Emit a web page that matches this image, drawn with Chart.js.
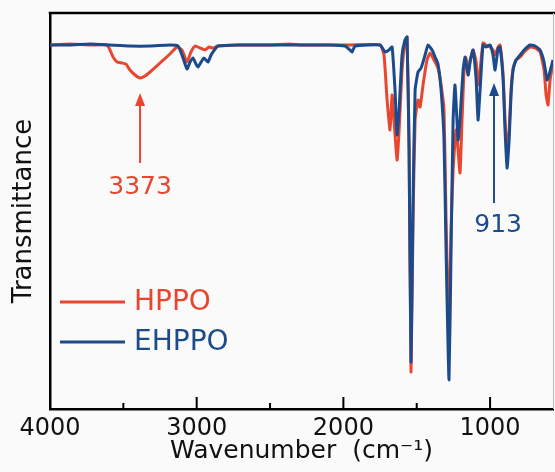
<!DOCTYPE html>
<html><head><meta charset="utf-8">
<script src="https://cdn.jsdelivr.net/npm/chart.js@4"></script>
<style>html,body{margin:0;padding:0;background:#fafafa;}#wrap{width:555px;height:472px;}</style>
</head><body><div id="wrap"><canvas id="c" width="555" height="472"></canvas></div>
<script>
const seriesNames = ['HPPO', 'EHPPO'];
const seriesColors = ['#E8462E', '#1C4B8C'];

const hppoWavenumber = [4000,3864,3727,3611,3591,3570,3543,3509,3482,3455,3420,3386,3352,3318,3250,3182,3134,3100,3066,3039,3011,2977,2943,2916,2889,2855,2705,2500,2364,2295,2091,1955,1750,1723,1702,1682,1668,1655,1634,1620,1600,1580,1566,1552,1539,1525,1511,1491,1477,1457,1430,1409,1382,1355,1334,1314,1300,1280,1266,1252,1232,1218,1205,1191,1177,1164,1150,1136,1116,1095,1082,1068,1048,1027,1000,980,966,945,932,911,898,884,870,857,843,823,795,768,727,693,659,632,618,605,591,571];
const hppoT = [91,91.25,91,91,89.75,88,86.75,86.5,86.25,84.75,83.5,82.75,83.25,84.25,86.5,88.75,90.5,89.75,86.75,89.25,90.75,90.25,89.75,90.5,90.25,90.75,91,91,91.25,91,91,91,91,88.5,77.25,69.75,78.5,72.25,62.25,69.75,84.75,91.75,93,64.75,9.25,47.25,72.25,77.25,75.5,81,87.25,89,87.25,85.25,81,74.75,47.25,19.75,44.75,59.75,69.75,64.75,59,72.25,84.75,87.75,83.5,87.25,89.75,86.75,81,84.75,91.5,91,90.5,89.75,88.5,90.5,91,83.5,72.25,64.75,69.75,79.75,85.25,87.25,88,89.25,90.5,90.25,89.25,84.75,78.5,76,82.25,86.5];

const ehppoWavenumber = [4000,3864,3727,3591,3455,3318,3182,3127,3093,3066,3045,3025,3005,2991,2970,2950,2923,2902,2889,2855,2705,2500,2295,2091,1989,1955,1941,1920,1750,1716,1689,1668,1648,1634,1620,1600,1580,1566,1552,1539,1525,1511,1491,1470,1443,1423,1395,1375,1355,1334,1314,1300,1280,1266,1252,1239,1218,1205,1184,1170,1150,1136,1116,1095,1082,1068,1048,1027,1000,980,966,945,932,911,898,884,870,857,843,823,795,768,727,693,659,632,611,598,571];
const ehppoT = [91,91,91.25,91,90.75,90.75,91,90.75,87.75,85,86.75,87.75,86.25,85.5,86.75,87.75,86.75,88.5,89.25,90.75,91,91,91,91,90.75,89.75,89.25,90.75,91,89.25,89.75,90.5,79.75,68.5,74.75,88.5,92.25,93,64.75,11.75,52.25,79.75,84.25,85.25,88.5,91,89.75,88,86.25,79.75,67.25,39.75,7.25,39.75,72.25,81,67.25,72.25,84.75,88,83.5,86.75,89.75,82.25,72.25,79.75,91,90.5,91,88.5,84.75,90.25,90.5,82.25,69.75,60.25,67.25,78.5,84.75,87.25,88.5,89.75,91,90.75,89.75,86.75,82.25,83.5,87.25];

const xTickValues = [4000, 3500, 3000, 2500, 2000, 1500, 1000];
const xRange = [571, 4000];
const yRange = [0, 99];

const annotationLabels = ['3373', '913'];
const annotationSeries = [0, 1];
const annotationArrowX = [3386, 973];
const annotationArrowTip = [79, 81.5];
const annotationArrowBase = [61.5, 51.5];
const annotationTextX = [3386, 945];
const annotationTextY = [55.5, 46];

const FONT = "'DejaVu Sans', sans-serif";

function pts(xs, ys) { return xs.map((x, i) => ({ x: x, y: ys[i] })); }

const framePlugin = {
  id: 'framePlugin',
  afterDraw(chart) {
    const ctx = chart.ctx, a = chart.chartArea;
    const xs = chart.scales.x, ys = chart.scales.y;
    ctx.save();
    ctx.strokeStyle = '#000'; ctx.lineWidth = 2.5;
    ctx.beginPath(); ctx.moveTo(a.left - 1.25, a.top); ctx.lineTo(555, a.top); ctx.stroke();
    ctx.strokeStyle = '#bbb'; ctx.lineWidth = 1;
    ctx.beginPath(); ctx.moveTo(a.right + 0.5, a.top); ctx.lineTo(a.right + 0.5, a.bottom); ctx.stroke();
    ctx.strokeStyle = '#000'; ctx.lineWidth = 2;
    xs.ticks.forEach(t => {
      const px = xs.getPixelForValue(t.value);
      const len = (t.value % 1000 === 0) ? 12 : 6;
      ctx.beginPath(); ctx.moveTo(px, a.bottom); ctx.lineTo(px, a.bottom - len); ctx.stroke();
    });
    ctx.font = '28px ' + FONT; ctx.textBaseline = 'middle'; ctx.textAlign = 'left';
    chart.data.datasets.forEach((ds, i) => {
      const y = 302 + i * 40;
      ctx.strokeStyle = ds.borderColor; ctx.lineWidth = 3;
      ctx.beginPath(); ctx.moveTo(60, y); ctx.lineTo(125, y); ctx.stroke();
      ctx.fillStyle = ds.borderColor;
      ctx.fillText(ds.label, 134, y + 1);
    });
    annotationLabels.forEach((lab, i) => {
      const col = seriesColors[annotationSeries[i]];
      const x = xs.getPixelForValue(annotationArrowX[i]);
      const yt = ys.getPixelForValue(annotationArrowTip[i]);
      const yb = ys.getPixelForValue(annotationArrowBase[i]);
      ctx.strokeStyle = col; ctx.fillStyle = col; ctx.lineWidth = 2;
      ctx.beginPath(); ctx.moveTo(x, yb); ctx.lineTo(x, yt + 10); ctx.stroke();
      ctx.beginPath(); ctx.moveTo(x, yt); ctx.lineTo(x - 5, yt + 13); ctx.lineTo(x + 5, yt + 13); ctx.closePath(); ctx.fill();
      ctx.font = '25px ' + FONT; ctx.textAlign = 'center'; ctx.textBaseline = 'middle';
      ctx.fillText(lab, xs.getPixelForValue(annotationTextX[i]), ys.getPixelForValue(annotationTextY[i]));
    });
    ctx.restore();
  }
};

new Chart(document.getElementById('c'), {
  type: 'line',
  data: {
    datasets: [
      { label: seriesNames[0], data: pts(hppoWavenumber, hppoT), borderColor: seriesColors[0], borderWidth: 3, pointRadius: 0, tension: 0.15, order: 1, borderJoinStyle: 'round' },
      { label: seriesNames[1], data: pts(ehppoWavenumber, ehppoT), borderColor: seriesColors[1], borderWidth: 3, pointRadius: 0, tension: 0.15, order: 0, borderJoinStyle: 'round' }
    ]
  },
  options: {
    responsive: false,
    animation: false,
    devicePixelRatio: 1,
    layout: { padding: { left: 0, right: 2, top: 13, bottom: 0 } },
    plugins: { legend: { display: false }, tooltip: { enabled: false } },
    scales: {
      x: {
        type: 'linear', reverse: true, min: xRange[0], max: xRange[1],
        afterBuildTicks: (s) => { s.ticks = xTickValues.map(v => ({ value: v })); },
        afterFit: (s) => { s.height = 63; },
        ticks: { autoSkip: false, maxRotation: 0, padding: 8, color: '#111',
          font: { family: FONT, size: 24, lineHeight: 1 },
          callback: (v) => (v % 1000 === 0 ? String(v) : '') },
        grid: { display: false, drawTicks: false },
        border: { display: true, color: '#000', width: 2.5 },
        title: { display: true, text: 'Wavenumber  (cm\u207B\u00B9)', color: '#111',
          font: { family: FONT, size: 25, lineHeight: 1 }, padding: { top: 0, bottom: 8 } }
      },
      y: {
        min: yRange[0], max: yRange[1],
        afterFit: (s) => { s.width = 50; },
        ticks: { display: false },
        grid: { display: false, drawTicks: false },
        border: { display: true, color: '#000', width: 2.5 },
        title: { display: true, text: 'Transmittance', color: '#111',
          font: { family: FONT, size: 26, lineHeight: 1 }, padding: { top: 11, bottom: 13 } }
      }
    }
  },
  plugins: [framePlugin]
});
</script></body></html>
